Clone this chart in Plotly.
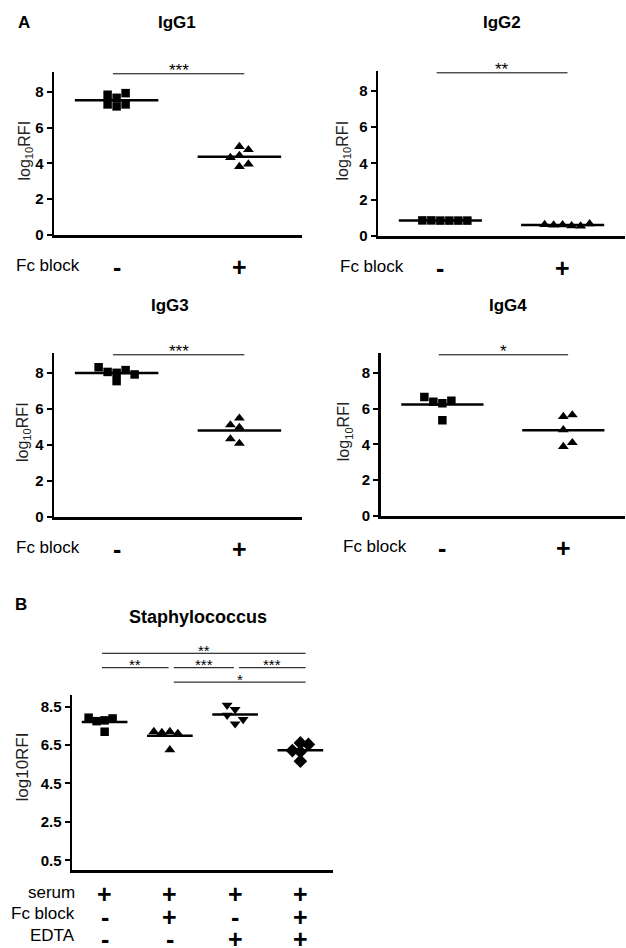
import plotly.graph_objects as go

W, H = 626, 948
FONT = "Arial, 'Liberation Sans', sans-serif"

# ---------------- data ----------------
panelA_titles = ["IgG1", "IgG2", "IgG3", "IgG4"]
fc_levels = ["-", "+"]
igg1_fc_minus = [7.18, 7.29, 7.29, 7.66, 7.83, 7.92]
igg1_fc_plus = [4.94, 4.44, 3.82, 4.76, 3.96, 4.32]
igg2_fc_minus = [0.85, 0.85, 0.86, 0.85, 0.86, 0.85]
igg2_fc_plus = [0.62, 0.56, 0.60, 0.55, 0.63, 0.67]
igg3_fc_minus = [8.00, 7.54, 8.05, 8.15, 8.31, 7.91]
igg3_fc_plus = [5.48, 4.97, 4.08, 5.11, 4.33]
igg4_fc_minus = [6.29, 5.34, 6.38, 6.43, 6.65]
igg4_fc_plus = [5.55, 4.81, 3.88, 5.64, 4.09]
panelA_sig = ["***", "**", "***", "*"]
panelA_yticks = [0, 2, 4, 6, 8]

staph_title = "Staphylococcus"
staph_serum = [7.78, 7.19, 7.74, 7.88, 7.92]
staph_serum_fc = [7.20, 6.25, 7.15, 7.10, 7.20]
staph_serum_edta = [8.35, 7.60, 8.57, 8.05, 7.83]
staph_serum_fc_edta = [6.61, 6.15, 5.66, 6.21, 6.53]
staph_yticks = [0.5, 2.5, 4.5, 6.5, 8.5]
cond_rows = ["serum", "Fc block", "EDTA"]
cond_serum = ["+", "+", "+", "+"]
cond_fcblock = ["-", "+", "-", "+"]
cond_edta = ["-", "-", "+", "+"]
cmp_from = [1, 1, 2, 3, 2]
cmp_to = [4, 2, 3, 4, 4]
cmp_stars = ["**", "**", "***", "***", "*"]
cmp_level = [2, 1, 1, 1, 0]


# ---------------- helpers ----------------
def dom(v, rng):
    return (v - rng[0]) / (rng[1] - rng[0])


def swarm(values, ppx_x, ppx_y, first, step_px=9.0, thr_px=8.0):
    placed, offs = [], []
    for v in values:
        seq = [0]
        for j in range(1, 12):
            seq += [first * j, -first * j]
        for k in seq:
            if all(not (pk == k and abs(pv - v) * ppx_y < thr_px) for pk, pv in placed):
                break
        placed.append((k, v))
        offs.append(k * step_px / ppx_x)
    return offs


def txt(text, size, bold=False, color="black", **kw):
    d = dict(text=text, showarrow=False, xanchor="center", yanchor="middle",
             font=dict(family=FONT, size=size, color=color, weight="bold" if bold else "normal"))
    d.update(kw)
    return d


fig = go.Figure()
annotations, shapes = [], []
layout_axes = {}

A_boxes = [(54, 302, 72, 235), (378, 625, 71, 236), (54, 302, 353, 517), (380.7, 625, 353, 516)]
A_title_pos = [(177, 23), (502, 23), (170, 305), (508, 305)]
A_ytitle_shift = [-29, -35, -31, -36]
A_xrange = [0.49, 2.51]
A_yrange = [0, 9.1]
A_data = [(igg1_fc_minus, igg1_fc_plus), (igg2_fc_minus, igg2_fc_plus),
          (igg3_fc_minus, igg3_fc_plus), (igg4_fc_minus, igg4_fc_plus)]
A_first = [(-1, 1), (1, 1), (-1, -1), (-1, 1)]
A_symbols = ["square", "triangle-up"]
A_sizes = [8.5, 9.5]


def add_axes(idx, box, xr, yr, yticks):
    s = "" if idx == 1 else str(idx)
    l, r, t, b = box
    layout_axes["xaxis" + s] = dict(domain=[l / W, r / W], range=xr, anchor="y" + s,
                                    showline=True, linewidth=2.5, linecolor="black",
                                    ticks="", showticklabels=False, showgrid=False,
                                    zeroline=False, fixedrange=True, automargin=False)
    layout_axes["yaxis" + s] = dict(domain=[1 - b / H, 1 - t / H], range=yr, anchor="x" + s,
                                    showline=True, linewidth=2.5, linecolor="black",
                                    ticks="outside", ticklen=5, tickwidth=2, tickcolor="black",
                                    tickvals=yticks, ticktext=[str(v) for v in yticks],
                                    tickfont=dict(family=FONT, size=15, color="black", weight="bold"),
                                    showgrid=False, zeroline=False, fixedrange=True, automargin=False)
    ppx_x = (r - l) / (xr[1] - xr[0])
    ppx_y = (b - t) / (yr[1] - yr[0])
    return s, ppx_x, ppx_y


for i in range(4):
    s, ppx_x, ppx_y = add_axes(i + 1, A_boxes[i], A_xrange, A_yrange, panelA_yticks)
    xref, yref = "x" + s, "y" + s
    for g, vals in enumerate(A_data[i]):
        xc = g + 1
        offs = swarm(vals, ppx_x, ppx_y, A_first[i][g])
        fig.add_trace(go.Scatter(x=[xc + o for o in offs], y=vals, mode="markers",
                                 marker=dict(symbol=A_symbols[g], size=A_sizes[g], color="black",
                                             line=dict(width=0)),
                                 xaxis=xref, yaxis=yref, showlegend=False, hoverinfo="skip"))
        m = sum(vals) / len(vals)
        fig.add_trace(go.Scatter(x=[xc - 0.34, xc + 0.34], y=[m, m], mode="lines",
                                 line=dict(color="black", width=2.5),
                                 xaxis=xref, yaxis=yref, showlegend=False, hoverinfo="skip"))
    # significance
    x0, x1, ys = 1 - 0.03, 2 + 0.04, 9.0
    shapes.append(dict(type="line", xref=xref + " domain", yref=yref + " domain",
                       x0=dom(x0, A_xrange), x1=dom(x1, A_xrange),
                       y0=dom(ys, A_yrange), y1=dom(ys, A_yrange),
                       line=dict(color="black", width=1)))
    annotations.append(txt(panelA_sig[i], 17, xref=xref + " domain", yref=yref + " domain",
                           x=dom((x0 + x1) / 2, A_xrange), y=dom(ys, A_yrange), yshift=3))
    # title
    tx, ty = A_title_pos[i]
    annotations.append(txt(panelA_titles[i], 17, bold=True, xref="paper", yref="paper",
                           x=tx / W, y=1 - ty / H))
    # y title
    annotations.append(txt("log<sub>10</sub>RFI", 16, color="#222", xref=xref + " domain",
                           yref=yref + " domain", x=0, y=0.5, xshift=A_ytitle_shift[i], yshift=3,
                           textangle=-90))
    # Fc block row
    annotations.append(txt("Fc block", 17, xref=xref + " domain", yref=yref + " domain",
                           x=0, y=0, xshift=-40, yshift=-30, xanchor="left"))
    for g, sym in enumerate(fc_levels):
        annotations.append(txt(sym, 25, bold=True, xref=xref, yref=yref + " domain",
                               x=g + 1, y=0, yshift=-32))

# ---------------- panel B ----------------
B_box = (72, 333, 695, 870)
B_xrange = [0.5, 4.5]
B_yrange = [0, 9.1]
B_data = [staph_serum, staph_serum_fc, staph_serum_edta, staph_serum_fc_edta]
B_symbols = ["square", "triangle-up", "triangle-down", "diamond"]
B_sizes = [8.5, 9.5, 9.5, 10.5]
s, ppx_x, ppx_y = add_axes(5, B_box, B_xrange, B_yrange, staph_yticks)
xref, yref = "x" + s, "y" + s
for g, vals in enumerate(B_data):
    xc = g + 1
    offs = swarm(vals, ppx_x, ppx_y, -1, step_px=8.0)
    fig.add_trace(go.Scatter(x=[xc + o for o in offs], y=vals, mode="markers",
                             marker=dict(symbol=B_symbols[g], size=B_sizes[g], color="black",
                                         line=dict(width=0)),
                             xaxis=xref, yaxis=yref, showlegend=False, hoverinfo="skip"))
    m = sum(vals) / len(vals)
    fig.add_trace(go.Scatter(x=[xc - 0.35, xc + 0.35], y=[m, m], mode="lines",
                             line=dict(color="black", width=2.5),
                             xaxis=xref, yaxis=yref, showlegend=False, hoverinfo="skip"))

for a, b, st, lv in zip(cmp_from, cmp_to, cmp_stars, cmp_level):
    x0 = a - 0.04 if a == 1 else a + 0.06
    x1 = b + 0.08 if b == 4 else b - 0.02
    ys = 9.77 + 0.75 * lv
    shapes.append(dict(type="line", xref=xref + " domain", yref=yref + " domain",
                       x0=dom(x0, B_xrange), x1=dom(x1, B_xrange),
                       y0=dom(ys, B_yrange), y1=dom(ys, B_yrange),
                       line=dict(color="black", width=1)))
    annotations.append(txt(st, 15, xref=xref + " domain", yref=yref + " domain",
                           x=dom((x0 + x1) / 2, B_xrange), y=dom(ys, B_yrange), yshift=3))

annotations.append(txt(staph_title, 18, bold=True, xref="paper", yref="paper",
                       x=198 / W, y=1 - 617 / H))
annotations.append(txt("log10RFI", 17, color="#222", xref=xref + " domain", yref=yref + " domain",
                       x=0, y=0.5, xshift=-50, yshift=15, textangle=-90))
for r, (lab, signs) in enumerate(zip(cond_rows, [cond_serum, cond_fcblock, cond_edta])):
    annotations.append(txt(lab, 17, xref=xref + " domain", yref=yref + " domain",
                           x=0, y=0, xshift=5, yshift=-22 - 21.7 * r, xanchor="right"))
    for g, sym in enumerate(signs):
        annotations.append(txt(sym, 25, bold=True, xref=xref, yref=yref + " domain",
                               x=g + 1, y=0, yshift=-24 - 22.5 * r))

# panel letters
annotations.append(txt("A", 17, bold=True, xref="paper", yref="paper", x=24 / W, y=1 - 23 / H))
annotations.append(txt("B", 17, bold=True, xref="paper", yref="paper", x=21 / W, y=1 - 604 / H))

fig.update_layout(width=W, height=H, margin=dict(l=0, r=0, t=0, b=0, autoexpand=False),
                  paper_bgcolor="white", plot_bgcolor="white",
                  annotations=annotations, shapes=shapes, showlegend=False,
                  font=dict(family=FONT, color="black"), **layout_axes)

fig.write_html("out.html", config={"displayModeBar": False, "staticPlot": True},
               post_script="document.body.style.margin='0';document.body.style.overflow='hidden';")
